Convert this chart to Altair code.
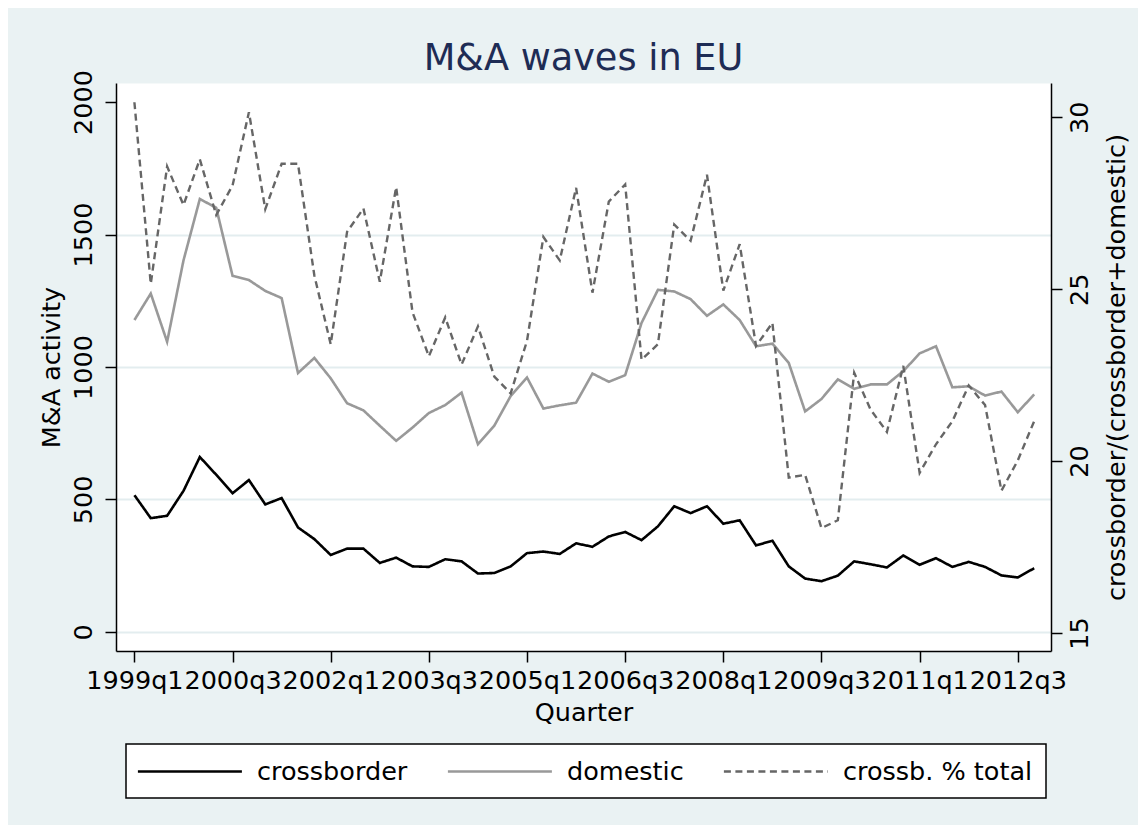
import altair as alt
import pandas as pd

# ---- data (1999q1 .. 2012q4, 56 quarters) ----
tick_labels = ["1999q1", "2000q3", "2002q1", "2003q3", "2005q1",
               "2006q3", "2008q1", "2009q3", "2011q1", "2012q3"]

crossborder = [516, 429, 438, 532, 660, 593, 523, 573, 481, 505, 394, 350, 290, 314,
               314, 260, 280, 247, 245, 274, 266, 220, 222, 247, 297, 303, 294, 334,
               321, 360, 377, 346, 398, 474, 448, 474, 408, 421, 326, 344, 247, 201,
               191, 212, 266, 255, 243, 288, 253, 278, 245, 264, 245, 213, 205, 240]

domestic = [1177, 1277, 1095, 1402, 1634, 1601, 1344, 1328, 1287, 1260, 977, 1034, 957, 863,
            836, 778, 721, 771, 826, 856, 903, 708, 778, 890, 960, 843, 855, 865,
            975, 944, 969, 1166, 1291, 1285, 1256, 1193, 1236, 1177, 1078, 1088, 1015, 832,
            879, 953, 917, 934, 934, 984, 1051, 1078, 923, 927, 892, 907, 829, 896]

share = [30.44, 25.16, 28.57, 27.45, 28.78, 27.16, 28.02, 30.15, 27.33, 28.65, 28.65, 25.4,
         23.40, 26.67, 27.35, 25.22, 27.97, 24.33, 23.05, 24.18, 22.81, 23.92, 22.46, 21.97,
         23.50, 26.52, 25.84, 27.95, 24.90, 27.55, 28.05, 22.95, 23.40, 26.88, 26.41, 28.33,
         24.96, 26.31, 23.35, 24.02, 19.52, 19.60, 18.05, 18.28, 22.57, 21.5, 20.85, 22.77,
         19.66, 20.49, 21.16, 22.20, 21.63, 19.14, 20.02, 21.16]

series_names = ["crossborder", "domestic", "crossb. % total"]
series_colors = ["#000000", "#999999", "#666666"]
series_dash = [[1, 0], [1, 0], [7, 4.5]]

n = len(crossborder)
left_df = pd.DataFrame(
    [{"t": i, "series": "crossborder", "value": v} for i, v in enumerate(crossborder)]
    + [{"t": i, "series": "domestic", "value": v} for i, v in enumerate(domestic)]
)
right_df = pd.DataFrame({"t": list(range(n)), "series": "crossb. % total", "share": share})

FONT = "DejaVu Sans"
FS = 25.5
W, H = 935, 568

label_expr = "[" + ",".join("'%s'" % s for s in tick_labels) + "][round(datum.value/6)]"

x_enc = alt.X(
    "t:Q",
    scale=alt.Scale(domain=[-1.125, 56.03], nice=False, zero=False),
    axis=alt.Axis(
        values=list(range(0, 6 * len(tick_labels), 6)),
        labelExpr=label_expr,
        labelFlush=False,
        labelOverlap=False,
        grid=False,
        tickSize=11,
        labelPadding=6,
        title="Quarter",
        titleX=W / 2,
        titleY=69,
        titleAlign="center",
        titleBaseline="alphabetic",
    ),
)

legend = alt.Legend(title=None, orient="none", legendX=10, legendY=661, direction="horizontal")

color_enc = alt.Color("series:N", scale=alt.Scale(domain=series_names, range=series_colors), legend=legend)
dash_enc = alt.StrokeDash("series:N", scale=alt.Scale(domain=series_names, range=series_dash), legend=legend)

left = alt.Chart(left_df).mark_line(strokeWidth=2.6).encode(
    x=x_enc,
    y=alt.Y(
        "value:Q",
        scale=alt.Scale(domain=[-72.5, 2072], nice=False, zero=False),
        axis=alt.Axis(
            orient="left",
            values=[0, 500, 1000, 1500, 2000],
            format="d",
            grid=True,
            gridColor="#E3EDEF",
            gridWidth=1.8,
            gridOpacity={"condition": {"test": "datum.value >= 2000", "value": 0}, "value": 1},
            labelAngle=270,
            labelAlign="center",
            labelBaseline="alphabetic",
            labelPadding=14,
            labelOverlap=False,
            tickSize=11,
            title="M&A activity",
            titleAngle=270,
            titleX=-57,
            titleY=H / 2,
            titleAlign="center",
            titleBaseline="alphabetic",
        ),
    ),
    color=color_enc,
    strokeDash=dash_enc,
)

right = alt.Chart(right_df).mark_line(strokeWidth=2.4).encode(
    x=alt.X("t:Q"),
    y=alt.Y(
        "share:Q",
        scale=alt.Scale(domain=[14.476, 31.0], nice=False, zero=False),
        axis=alt.Axis(
            orient="right",
            values=[15, 20, 25, 30],
            grid=False,
            labelAngle=270,
            labelAlign="center",
            labelBaseline="top",
            labelPadding=5,
            labelOverlap=False,
            tickSize=11,
            title="crossborder/(crossborder+domestic)",
            titleAngle=270,
            titleX=73.5,
            titleY=H / 2,
            titleAlign="center",
            titleBaseline="alphabetic",
        ),
    ),
    color=color_enc,
    strokeDash=dash_enc,
)

chart = (
    alt.layer(left, right)
    .resolve_scale(y="independent")
    .properties(
        width=W,
        height=H,
        autosize=alt.AutoSizeParams(type="none"),
        padding={"left": 108, "top": 75, "right": 87, "bottom": 174},
        background="#EAF2F3",
        title=alt.Title(
            "M&A waves in EU",
            font=FONT,
            fontSize=36.7,
            fontWeight="normal",
            color="#1e2c55",
            anchor="middle",
            baseline="alphabetic",
            offset=0,
            dy=37,
        ),
    )
    .configure_view(fill="white", stroke="transparent")
    .configure_axis(
        labelFont=FONT,
        labelFontSize=FS,
        labelColor="black",
        titleFont=FONT,
        titleFontSize=FS,
        titleFontWeight="normal",
        titleColor="black",
        domainColor="black",
        domainWidth=1.5,
        tickColor="black",
        tickWidth=1.5,
    )
    .configure_legend(
        fillColor="white",
        strokeColor="black",
        strokeWidth=1.5,
        padding=13,
        symbolType="M-1.2,0H6.8",
        symbolSize=676,
        symbolStrokeWidth=2.5,
        labelFont=FONT,
        labelFontSize=FS,
        labelColor="black",
        labelOffset=89,
        labelLimit=400,
        columnPadding=34,
    )
)

chart.save("out.html", embed_options={"renderer": "svg", "actions": False})
